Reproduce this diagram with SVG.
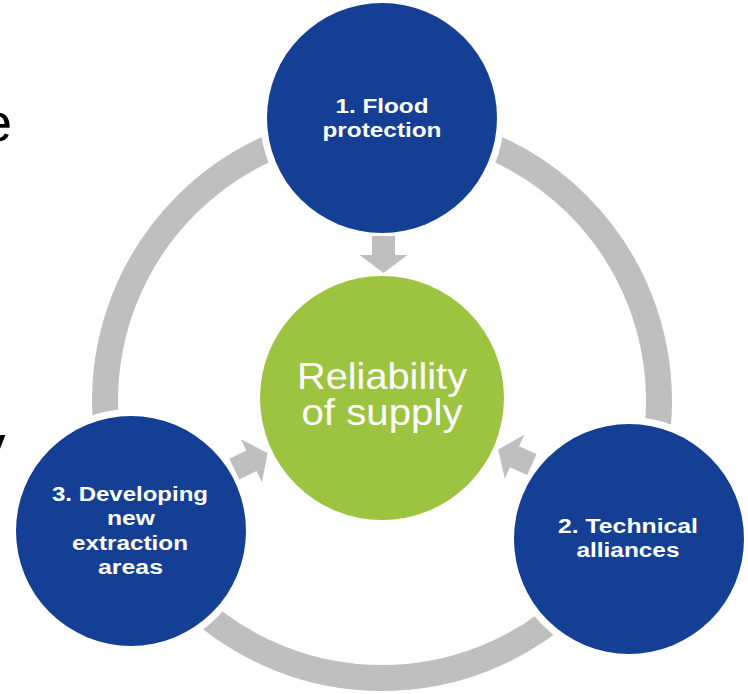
<svg xmlns="http://www.w3.org/2000/svg" width="748" height="694" viewBox="0 0 748 694">
  <defs>
    <style>
      .halo { fill: #ffffff; }
      .blue { fill: #143F95; }
      .green { fill: #9CC440; }
      .ring { fill: none; stroke: #BFBFBF; stroke-width: 26; }
      .arrow { fill: #BFBFBF; }
      .lbl { font-family: "Liberation Sans", Arial, sans-serif; font-weight: bold; font-size: 20px; fill: #ffffff; text-anchor: middle; }
      .center { font-family: "Liberation Sans", Arial, sans-serif; font-size: 36.5px; fill: #ffffff; text-anchor: middle; }
      .cut { font-family: "Liberation Sans", Arial, sans-serif; font-size: 54px; fill: #000000; }
    </style>
    <path id="blockArrow" d="M-18.5,-11.5 H0.5 V-24 L18.5,0 L0.5,24 V11.5 H-18.5 Z"/>
  </defs>
  <rect width="748" height="694" fill="#ffffff"/>

  <text class="cut" x="-18" y="140.5">e</text>
  <text class="cut" x="-21.5" y="463">y</text>

  <g id="connectors">
    <circle class="ring" cx="382" cy="401" r="277"/>
  </g>

  <g id="node-center">
    <circle class="green" cx="382" cy="398" r="122"/>
    <text class="center" x="382" y="389" textLength="170" lengthAdjust="spacingAndGlyphs">Reliability</text>
    <text class="center" x="382" y="425" textLength="161" lengthAdjust="spacingAndGlyphs">of supply</text>
  </g>

  <g id="node-1">
    <circle class="halo" cx="382" cy="118" r="122"/>
    <circle class="blue" cx="382" cy="118" r="115"/>
    <text class="lbl" x="382" y="112.7" textLength="93" lengthAdjust="spacingAndGlyphs">1. Flood</text>
    <text class="lbl" x="382" y="136.7" textLength="119" lengthAdjust="spacingAndGlyphs">protection</text>
  </g>

  <g id="node-2">
    <circle class="halo" cx="629" cy="539" r="122"/>
    <circle class="blue" cx="629" cy="539" r="115"/>
    <text class="lbl" x="628" y="533" textLength="140" lengthAdjust="spacingAndGlyphs">2. Technical</text>
    <text class="lbl" x="628" y="557" textLength="103" lengthAdjust="spacingAndGlyphs">alliances</text>
  </g>

  <g id="node-3">
    <circle class="halo" cx="131" cy="531" r="122"/>
    <circle class="blue" cx="131" cy="531" r="115"/>
    <text class="lbl" x="130" y="500.7" textLength="156" lengthAdjust="spacingAndGlyphs">3. Developing</text>
    <text class="lbl" x="131" y="525" textLength="48" lengthAdjust="spacingAndGlyphs">new</text>
    <text class="lbl" x="130" y="550" textLength="116" lengthAdjust="spacingAndGlyphs">extraction</text>
    <text class="lbl" x="130.5" y="574" textLength="65" lengthAdjust="spacingAndGlyphs">areas</text>
  </g>

  <g id="arrows">
    <use href="#blockArrow" class="arrow" transform="translate(383.5,254.5) rotate(90)"/>
    <use href="#blockArrow" class="arrow" transform="translate(251,461) rotate(-26)"/>
    <use href="#blockArrow" class="arrow" transform="translate(515,457) rotate(-156)"/>
  </g>
</svg>
